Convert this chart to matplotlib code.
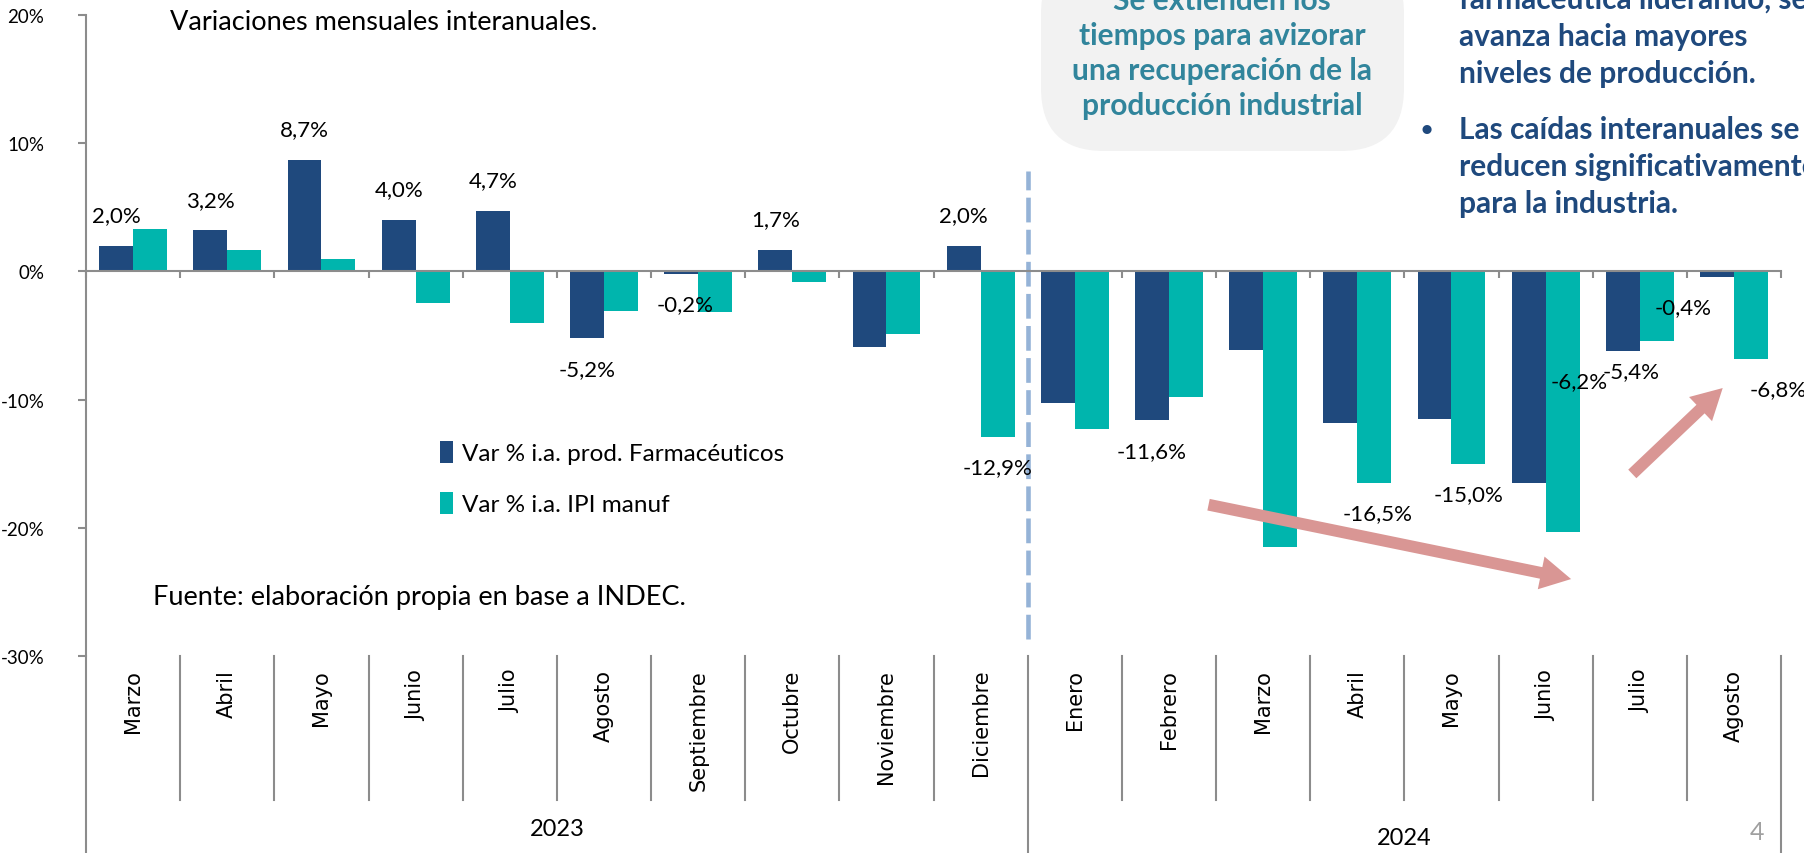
import matplotlib.pyplot as plt
import matplotlib.transforms as mtransforms
from matplotlib.patches import FancyBboxPatch
import numpy as np

plt.rcParams['font.family'] = ['Lato', 'DejaVu Sans']

# datos (variación % interanual)
meses = ['Marzo', 'Abril', 'Mayo', 'Junio', 'Julio', 'Agosto', 'Septiembre', 'Octubre',
         'Noviembre', 'Diciembre', 'Enero', 'Febrero', 'Marzo', 'Abril', 'Mayo', 'Junio',
         'Julio', 'Agosto']
anios = ['2023', '2024']
meses_por_anio = [10, 8]
farma = [2.0, 3.2, 8.7, 4.0, 4.7, -5.2, -0.2, 1.7, -5.9, 2.0,
         -10.3, -11.6, -6.1, -11.8, -11.5, -16.5, -6.2, -0.4]
ipi = [3.3, 1.7, 1.0, -2.5, -4.0, -3.1, -3.2, -0.8, -4.9, -12.9,
       -12.3, -9.8, -21.5, -16.5, -15.0, -20.3, -5.4, -6.8]
series_nombres = ['Var % i.a. prod. Farmacéuticos', 'Var % i.a. IPI manuf']

# etiquetas visibles: (serie, indice, desplazamiento x)
etiquetas = [(0, 0, 0), (0, 1, 0), (0, 2, 0), (0, 3, 0), (0, 4, 0), (0, 5, 0),
             (0, 6, 0.04), (0, 7, 0), (0, 9, 0), (1, 9, 0), (0, 11, 0), (1, 13, 0.04),
             (1, 14, 0), (0, 16, -0.46), (1, 16, -0.27), (0, 17, -0.36), (1, 17, 0.29)]

AZUL = '#1F497D'
TEAL = '#00B5AD'
GRIS = '#8C8C8C'

fig = plt.figure(figsize=(18.04, 8.54), dpi=100)
ax = fig.add_axes([0.0477, 0.2307, 0.9396, 0.7506])

x = np.arange(len(meses))
ancho = 0.36
b1 = ax.bar(x - ancho / 2, farma, ancho, color=AZUL, label=series_nombres[0])
b2 = ax.bar(x + ancho / 2, ipi, ancho, color=TEAL, label=series_nombres[1])

ax.set_xlim(-0.5, len(meses) - 0.5)
ax.set_ylim(-30, 20)

# ejes
for s in ['top', 'right']:
    ax.spines[s].set_visible(False)
ax.spines['bottom'].set_position(('data', 0))
ax.spines['bottom'].set_color(GRIS)
ax.spines['bottom'].set_linewidth(1.5)
ax.spines['left'].set_color(GRIS)
ax.spines['left'].set_linewidth(1.5)
ax.set_xticks(np.arange(-0.5, len(meses), 1))
ax.set_xticklabels([])
ax.tick_params(axis='x', length=5, width=1.5, color=GRIS, direction='out')
ax.set_yticks([-30, -20, -10, 0, 10, 20])
ax.set_yticklabels([f'{v}%' for v in [-30, -20, -10, 0, 10, 20]], fontsize=13.5)
ax.tick_params(axis='y', length=6, width=1.5, color=GRIS, pad=24)

# etiquetas de datos
valores = [farma, ipi]
for serie, i, dx in etiquetas:
    v = valores[serie][i]
    xc = i - ancho / 2 if serie == 0 else i + ancho / 2
    off = 22 if v >= 0 else -22
    ax.annotate(f'{v:.1f}%'.replace('.', ','), (xc + dx, v), xytext=(0, off),
                textcoords='offset points', ha='center', va='center', fontsize=16)

# eje de categorías con meses y años
trans = mtransforms.blended_transform_factory(ax.transData, ax.transAxes)
for i, m in enumerate(meses):
    ax.text(i, -0.02, m, transform=trans, rotation=90, ha='center', va='top',
            fontsize=15, family='DejaVu Sans')
limites = np.cumsum([0] + meses_por_anio) - 0.5
for b in np.arange(-0.5, len(meses), 1):
    largo = -0.31 if b in limites else -0.2247
    ax.plot([b, b], [0, largo], transform=trans, color=GRIS, lw=1.5, clip_on=False)
anio_y = [-0.252, -0.267]
for k, a in enumerate(anios):
    centro = (limites[k] + limites[k + 1]) / 2
    ax.text(centro, anio_y[k], a, transform=trans, ha='center', va='top', fontsize=17)

# línea divisoria entre años
ax.vlines(limites[1], -28.7, 7.8, colors='#95B3D7', linewidth=3.3,
          linestyles=(0, (5.4, 1.6)))

# flechas de tendencia
flecha = dict(arrowstyle='simple,head_width=2.4,head_length=2.2,tail_width=0.85',
              mutation_scale=10, color='#D99694', lw=0, shrinkA=0, shrinkB=0)
ax.annotate('', xy=(15.27, -24.0), xytext=(11.42, -18.2), arrowprops=flecha)
ax.annotate('', xy=(16.88, -9.1), xytext=(15.92, -15.8), arrowprops=flecha)

# leyenda
ax.legend(handles=[b1, b2], loc='upper left', bbox_to_anchor=(440 / 1804, 1 - 442 / 854),
          bbox_transform=fig.transFigure, frameon=False, fontsize=17.5,
          handlelength=0.55, handleheight=1.0, handletextpad=0.35, labelspacing=1.15,
          borderpad=0, borderaxespad=0)

# textos
fig.text(170 / 1804, 1 - 23 / 854, 'Variaciones mensuales interanuales.',
         ha='left', va='center', fontsize=19.5)
fig.text(153 / 1804, 1 - 598 / 854, 'Fuente: elaboración propia en base a INDEC.',
         ha='left', va='center', fontsize=19.5)
fig.text(1757 / 1804, 1 - 833 / 854, '4', ha='center', va='center', fontsize=18, color='#A0A0A0')

caja = FancyBboxPatch((1041 / 1804, 1 - 152 / 854), 363 / 1804, 200 / 854,
                      boxstyle='round,pad=0,rounding_size=0.035', transform=fig.transFigure,
                      facecolor='#F2F2F2', edgecolor='none', mutation_aspect=1804 / 854)
fig.patches.append(caja)
caja_lineas = ['Se extienden los', 'tiempos para avizorar', 'una recuperación de la',
               'producción industrial']
for k, t in enumerate(caja_lineas):
    fig.text(1222 / 1804, 1 - (1 + 35 * k) / 854, t, ha='center', va='center',
             fontsize=21.5, fontweight='bold', color='#31859C')

lineas_der = [('', 'farmacéutica liderando, se', 0), ('', 'avanza hacia mayores', 37),
              ('', 'niveles de producción.', 74), ('•', 'Las caídas interanuales se', 130),
              ('', 'reducen significativamente', 167), ('', 'para la industria.', 204)]
for bala, t, yy in lineas_der:
    if bala:
        fig.text(1427 / 1804, 1 - yy / 854, bala, ha='center', va='center',
                 fontsize=15, fontweight='bold', color=AZUL)
    fig.text(1459 / 1804, 1 - yy / 854, t, ha='left', va='center',
             fontsize=21.5, fontweight='bold', color=AZUL)

fig.savefig('out.png', dpi=100)
